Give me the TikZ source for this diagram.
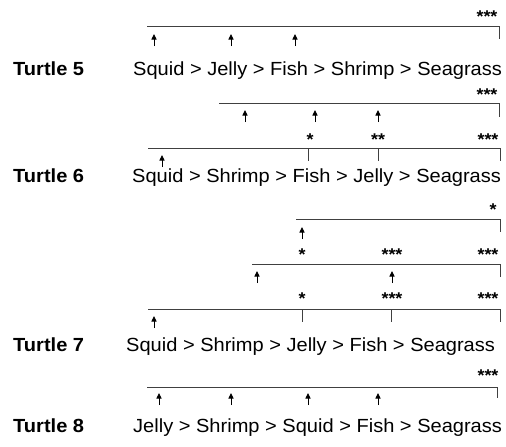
\documentclass[tikz,border=0pt]{standalone}
\usepackage{fontspec}
\setmainfont{Liberation Sans}[FakeStretch=1.055]
\usetikzlibrary{arrows.meta}

\begin{document}
\begin{tikzpicture}[x=1pt,y=-1pt,
	turtle/.style={anchor=base west,inner sep=0pt,font=\fontsize{19}{23}\selectfont\bfseries},
	order/.style={anchor=base west,inner sep=0pt,font=\fontsize{19}{23}\selectfont},
	sig/.style={anchor=base,inner sep=0pt,font=\fontsize{17}{21}\selectfont\bfseries},
	brk/.style={line width=0.9pt,black!75},
	up/.style={line width=0.9pt,-{Triangle[length=5.5pt,width=5pt]}}]
	\useasboundingbox (0,0) rectangle (506,447);
	% turtle 5
	\node[sig] (s5a) at (487,23) {***};
	\draw[brk] (147,26) -- (499,26) -- (499,39);
	\draw[up] (154,46) -- (154,34);
	\draw[up] (231,46) -- (231,34);
	\draw[up] (295,46) -- (295,34);
	\node[turtle] (lbl5) at (13,75) {Turtle 5};
	\node[order] (t5) at (133,75) {Squid > Jelly > Fish > Shrimp > Seagrass};
	\node[sig] (s5b) at (487,100) {***};
	\draw[brk] (219,103) -- (499,103) -- (499,117);
	\draw[up] (245,122) -- (245,110);
	\draw[up] (315,122) -- (315,110);
	\draw[up] (378,122) -- (378,110);
	% turtle 6
	\node[sig] (s6a) at (310,145) {*};
	\node[sig] (s6b) at (378,145) {**};
	\node[sig] (s6c) at (488,145) {***};
	\draw[brk] (148,148) -- (500,148) -- (500,161);
	\draw[brk] (308,148) -- (308,161);
	\draw[brk] (378,148) -- (378,161);
	\draw[up] (162,167) -- (162,155);
	\node[turtle] (lbl6) at (13,182) {Turtle 6};
	\node[order] (t6) at (132,182) {Squid > Shrimp > Fish > Jelly > Seagrass};
	\node[sig] (s6d) at (493,215) {*};
	\draw[brk] (296,219) -- (500,219) -- (500,232);
	\draw[up] (302,239) -- (302,227);
	\node[sig] (s6e) at (302,260) {*};
	\node[sig] (s6f) at (392,260) {***};
	\node[sig] (s6g) at (488,260) {***};
	\draw[brk] (252,264) -- (500,264) -- (500,277);
	\draw[up] (257,283) -- (257,271);
	\draw[up] (392,283) -- (392,271);
	% turtle 7
	\node[sig] (s7a) at (302,304) {*};
	\node[sig] (s7b) at (392,304) {***};
	\node[sig] (s7c) at (488,304) {***};
	\draw[brk] (148,309) -- (500,309) -- (500,322);
	\draw[brk] (302,309) -- (302,322);
	\draw[brk] (391,309) -- (391,322);
	\draw[up] (154,328) -- (154,316);
	\node[turtle] (lbl7) at (13,351) {Turtle 7};
	\node[order] (t7) at (126,351) {Squid > Shrimp > Jelly > Fish > Seagrass};
	% turtle 8
	\node[sig] (s8a) at (488,381) {***};
	\draw[brk] (147,387) -- (497,387) -- (497,398);
	\draw[up] (159,405) -- (159,393);
	\draw[up] (231,405) -- (231,393);
	\draw[up] (308,405) -- (308,393);
	\draw[up] (378,405) -- (378,393);
	\node[turtle] (lbl8) at (13,432) {Turtle 8};
	\node[order] (t8) at (133,432) {Jelly > Shrimp > Squid > Fish > Seagrass};
\end{tikzpicture}
\end{document}
